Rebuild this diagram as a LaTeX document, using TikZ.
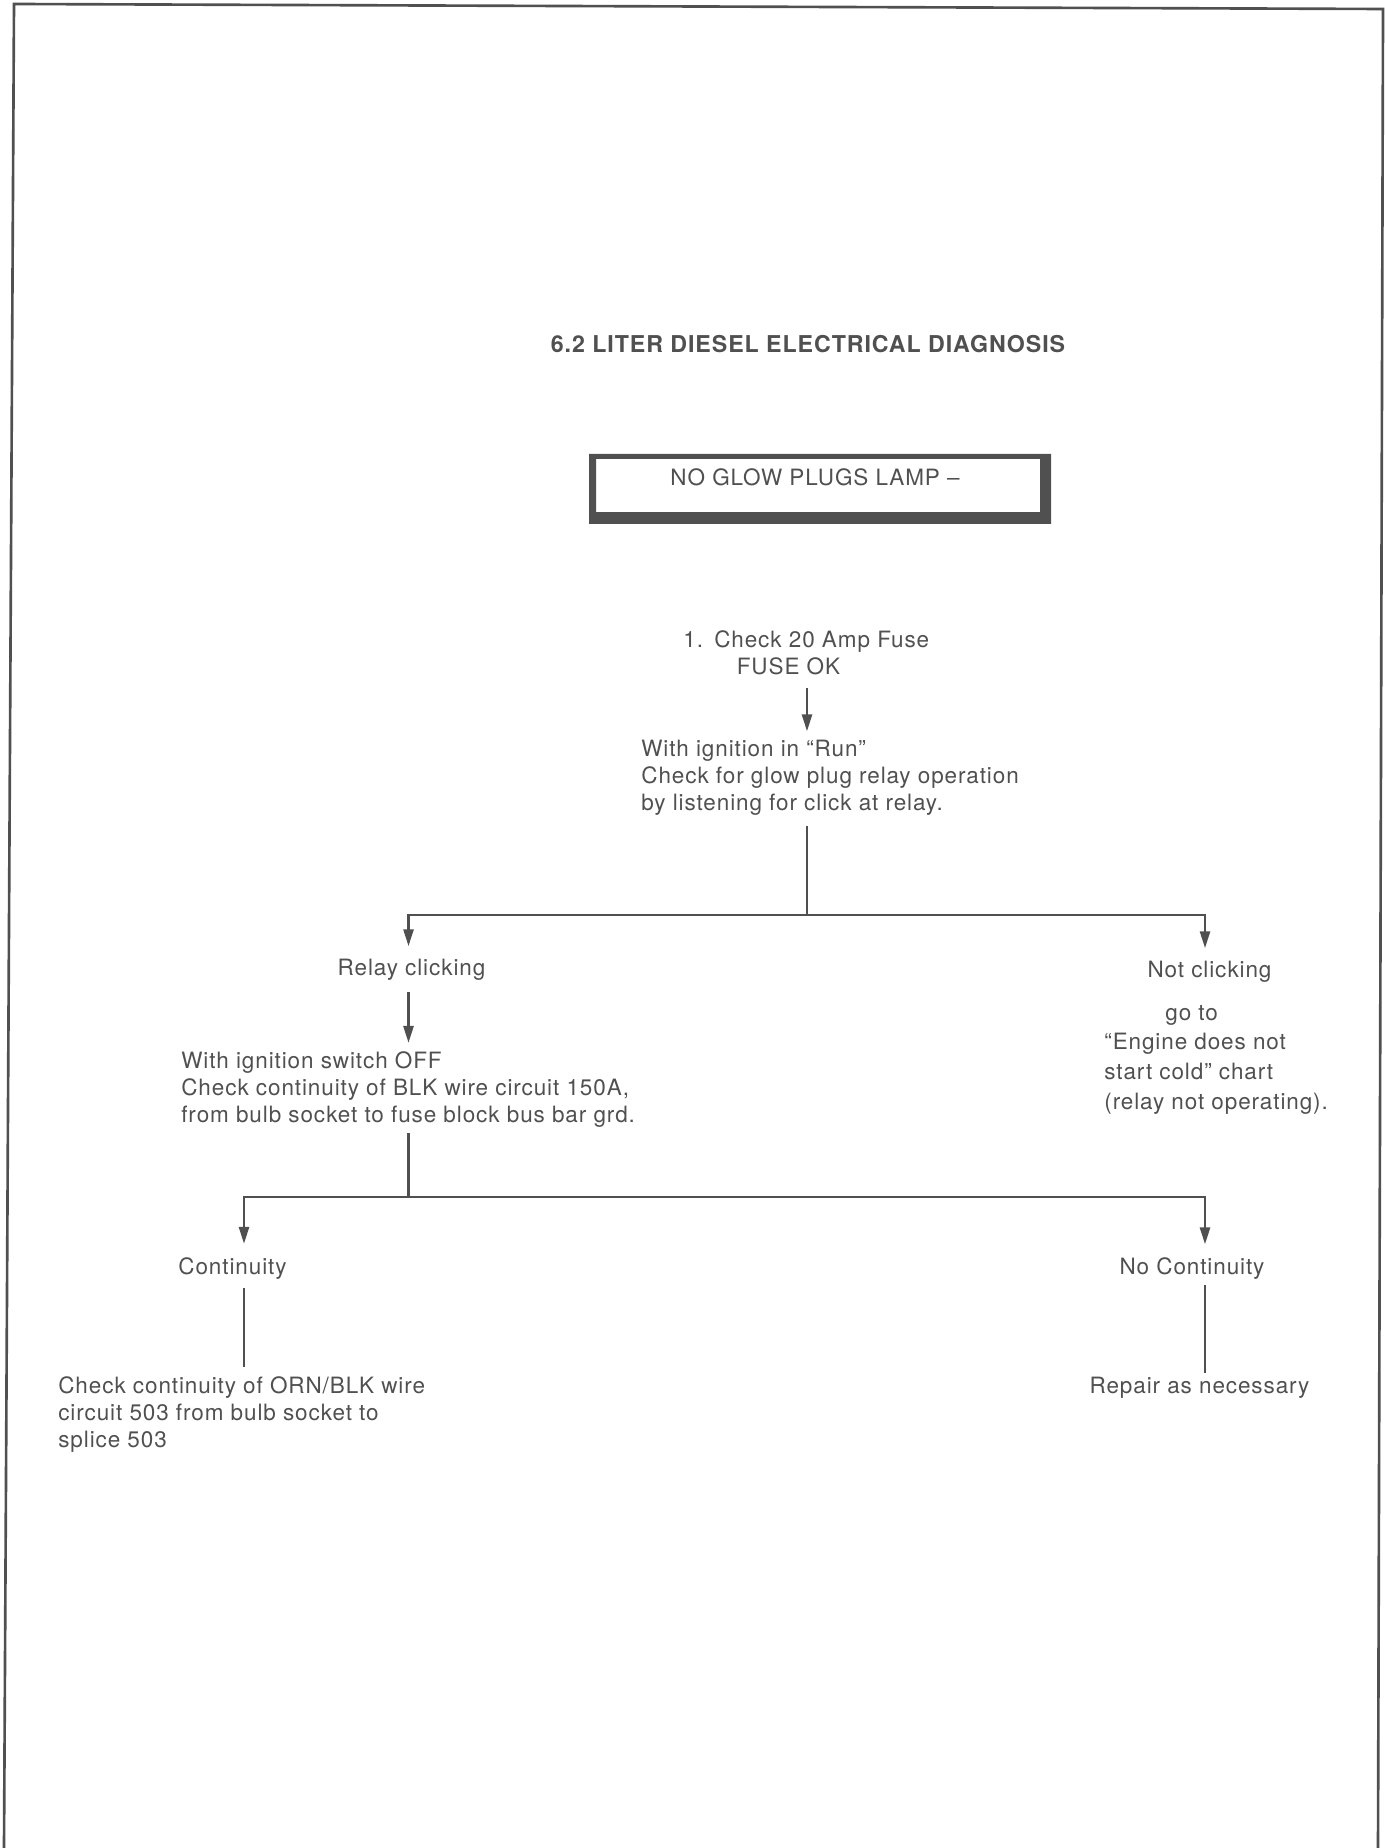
\documentclass[tikz,border=0pt]{standalone}
\usepackage{fontspec}
\setmainfont[LetterSpace=4]{TeX Gyre Heros}
\usetikzlibrary{arrows.meta, positioning}
\definecolor{ink}{HTML}{505050}
\tikzset{
  % testo del diagramma
  txt/.style={inner sep=0pt, align=left, text=ink, font=\fontsize{12.8}{15.2}\selectfont},
  titletxt/.style={txt, font=\fontsize{13.2}{15.2}\selectfont\bfseries},
  % collegamenti
  wire/.style={line width=1.5pt, draw=ink},
  arr/.style={wire, -{Triangle[length=3.4mm, width=2mm]}},
  % cornice della pagina
  pageframe/.style={line width=1.5pt, draw=ink},
}

\begin{document}
\begin{tikzpicture}
  \useasboundingbox (0,0) rectangle (27.68,-36.96);
  \draw[pageframe] (0.08,-36.96) -- (0.28,-0.08) -- (27.66,-0.18) -- (27.56,-36.96);
  \node[titletxt, anchor=base] (title) at (16.16,-7.06) {6.2 LITER DIESEL ELECTRICAL DIAGNOSIS};
  \fill[ink, even odd rule] (11.78,-9.08) rectangle (21.02,-10.48) (11.92,-9.18) rectangle (20.80,-10.24);
  \node[txt, anchor=base] (lamp) at (16.30,-9.71) {NO GLOW PLUGS LAMP --};
  % nodi a piu righe: base = ultima riga
  \node[txt, anchor=base west] (fuse) at (13.66,-13.48) {1.\enspace Check 20 Amp Fuse\\\hspace*{1.07cm}FUSE OK};
  \node[txt, anchor=base west] (run) at (12.82,-16.20) {With ignition in ``Run''\\Check for glow plug relay operation\\by listening for click at relay.};
  \node[txt, anchor=base] (relay) at (8.23,-19.50) {Relay clicking};
  \node[txt, anchor=base] (notclick) at (24.19,-19.54) {Not clicking};
  \node[txt, anchor=base west, font=\fontsize{12.8}{16.8}\selectfont] (goto) at (22.08,-22.18)
    {\hspace*{1.22cm}go to\\``Engine does not\\start cold'' chart\\(relay not operating).};
  \node[txt, anchor=base west] (offchk) at (3.62,-22.44) {With ignition switch OFF\\Check continuity of BLK wire circuit 150A,\\from bulb socket to fuse block bus bar grd.};
  \node[txt, anchor=base] (cont) at (4.65,-25.48) {Continuity};
  \node[txt, anchor=base] (nocont) at (23.84,-25.49) {No Continuity};
  \node[txt, anchor=base west] (orn) at (1.16,-28.94) {Check continuity of ORN/BLK wire\\circuit 503 from bulb socket to\\splice 503};
  \node[txt, anchor=base] (repair) at (23.99,-27.86) {Repair as necessary};

  \coordinate (mid) at (16.14,-18.30);
  \coordinate (bar2) at (8.17,-23.94);
  \coordinate (lcol) at (4.88,-23.94);
  \coordinate (rcol) at (24.10,-18.30);

  \draw[arr, shorten <=0.26cm, shorten >=0.17cm] (fuse.south -| mid) -- (run.north -| mid);
  \draw[wire, shorten <=0.22cm] (run.south -| mid) -- (mid);
  \draw[arr, shorten >=0.24cm] (mid) -| (relay.north -| bar2);
  \draw[arr, shorten >=0.24cm] (mid) -| (notclick.north -| rcol);
  \draw[arr, shorten <=0.24cm, shorten >=0.17cm] (relay.south -| bar2) -- (offchk.north -| bar2);
  \draw[wire, shorten <=0.12cm] (offchk.south -| bar2) -- (bar2);
  \draw[arr, shorten >=0.26cm] (bar2) -| (cont.north -| lcol);
  \draw[arr, shorten >=0.26cm] (bar2) -| (nocont.north -| rcol);
  \draw[wire, shorten <=0.18cm, shorten >=0.19cm] (cont.south -| lcol) -- (orn.north -| lcol);
  \draw[wire, shorten <=0.1cm, shorten >=0.07cm] (nocont.south -| rcol) -- (repair.north -| rcol);
\end{tikzpicture}
\end{document}
